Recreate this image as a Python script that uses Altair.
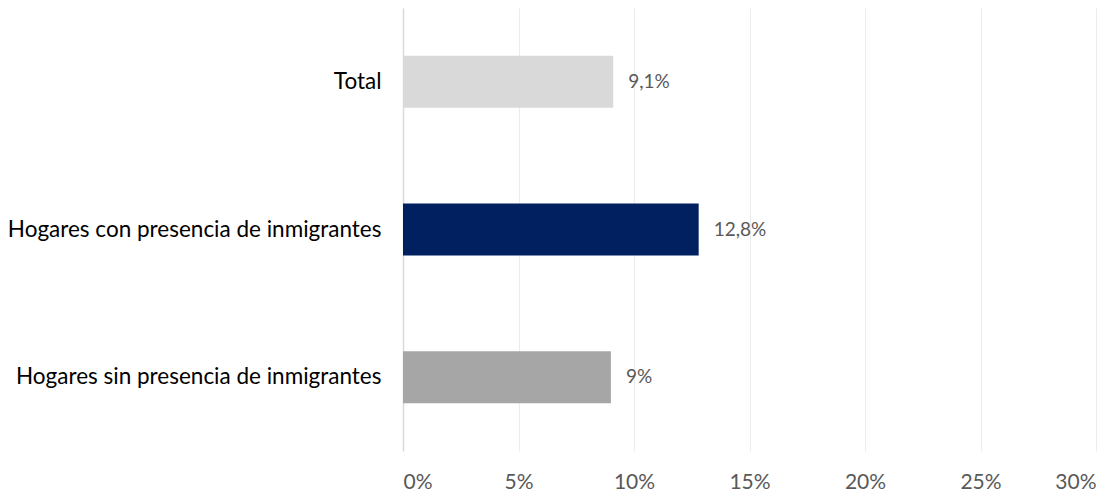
import altair as alt
import pandas as pd

categories = ["Total", "Hogares con presencia de inmigrantes", "Hogares sin presencia de inmigrantes"]
values = [9.1, 12.8, 9.0]
value_labels = ["9,1%", "12,8%", "9%"]
colors = ["#d9d9d9", "#002060", "#a6a6a6"]
x_ticks = [0, 5, 10, 15, 20, 25, 30]

df = pd.DataFrame({"cat": categories, "val": values, "lab": value_labels, "col": colors})

FONT = "Lato"

y_enc = alt.Y("cat:N", sort=categories, title=None,
              scale=alt.Scale(paddingInner=0.65, paddingOuter=0.325),
              axis=alt.Axis(labelFontSize=22.5, labelColor="#000000", labelFont=FONT,
                            labelPadding=22, ticks=False, domain=True,
                            domainColor="#d9d9d9", domainWidth=1.5, grid=False, labelLimit=500))
x_enc = alt.X("val:Q", title=None,
              scale=alt.Scale(domain=[0, 30], nice=False),
              axis=alt.Axis(values=x_ticks, labelExpr="datum.value + '%'",
                            labelFontSize=21, labelColor="#595959", labelFont=FONT,
                            labelPadding=20, ticks=False, domain=False,
                            grid=True, gridColor="#ececec", gridWidth=1))

bars = alt.Chart(df).mark_bar(size=52).encode(
    x=x_enc, y=y_enc,
    color=alt.Color("col:N", scale=None)
)

text = alt.Chart(df).mark_text(align="left", baseline="middle", dx=15,
                               fontSize=19, color="#595959", font=FONT).encode(
    x="val:Q", y=alt.Y("cat:N", sort=categories), text="lab:N"
)

chart = (bars + text).properties(
    width=693, height=443,
    autosize=alt.AutoSizeParams(type="none"),
    padding={"left": 395, "top": 0, "right": 15, "bottom": 41}
).configure_view(stroke=None)

chart.save("out.html", embed_options={"renderer": "svg", "actions": False})
